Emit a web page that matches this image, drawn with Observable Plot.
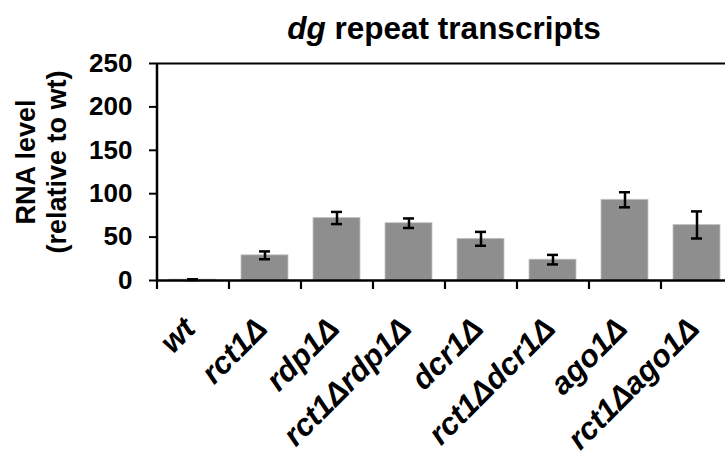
<!DOCTYPE html>
<html>
<head>
<meta charset="utf-8">
<script src="https://cdn.jsdelivr.net/npm/d3@7"></script>
<script src="https://cdn.jsdelivr.net/npm/@observablehq/plot@0.6"></script>
<style>
  html, body { margin: 0; padding: 0; background: #fff; overflow: hidden; width: 725px; height: 457px; position: relative; }
  #title { position: absolute; left: 156px; top: 10px; width: 576px; height: 36px; line-height: 36px; font-family: "Liberation Sans", Arial, sans-serif; font-weight: bold; font-size: 31.5px; color: #000; text-align: center; white-space: nowrap; }
  #chart svg { display: block; overflow: hidden; }
</style>
</head>
<body>
<div id="chart"></div>
<div id="title"><i>dg</i> repeat transcripts</div>
<script>
const strains = ["wt", "rct1Δ", "rdp1Δ", "rct1Δrdp1Δ", "dcr1Δ", "rct1Δdcr1Δ", "ago1Δ", "rct1Δago1Δ"];
const means = [1, 29, 72, 66, 48, 24, 93, 64];
const errors = [0.4, 4.5, 7, 5.5, 8, 5.5, 8.7, 15.6];
const yTicks = [0, 50, 100, 150, 200, 250];
const yLabelLines = ["RNA level", "(relative to wt)"];

const data = strains.map((s, i) => ({strain: s, mean: means[i], err: errors[i]}));

const width = 725, marginLeft = 156, marginRight = -7;
const step = (width - marginLeft - marginRight) / strains.length;
const font = "Liberation Sans, Arial, sans-serif";

const plot = Plot.plot({
  width,
  height: 457,
  marginLeft,
  marginRight,
  marginTop: 63,
  marginBottom: 177,
  style: {fontFamily: font, color: "#000", background: "#fff"},
  x: {domain: strains, paddingInner: 0.35, paddingOuter: 0.175, axis: null},
  y: {domain: [0, 250], ticks: yTicks, axis: null},
  marks: [
    Plot.barY(data, {x: "strain", y: "mean", fill: "#8e8e8e", stroke: "#c4c4c4", strokeWidth: 0.8}),
    Plot.ruleX(data, {x: "strain", y1: d => d.mean - d.err, y2: d => d.mean + d.err, stroke: "#000", strokeWidth: 2.5}),
    Plot.tickY(data, {x: "strain", y: d => d.mean - d.err, stroke: "#000", strokeWidth: 2.5, insetLeft: 18, insetRight: 18}),
    Plot.tickY(data, {x: "strain", y: d => d.mean + d.err, stroke: "#000", strokeWidth: 2.5, insetLeft: 18, insetRight: 18}),
    Plot.axisY({ticks: yTicks, tickSize: 7, tickPadding: 17, strokeWidth: 2, fontSize: 26, fontWeight: "bold", label: null}),
    Plot.ruleX([strains[0]], {x: d => d, dx: -step / 2, y1: 0, y2: 250, stroke: "#000", strokeWidth: 2.5}),
    Plot.ruleY([0], {stroke: "#000", strokeWidth: 2.5}),
    Plot.ruleY([250], {stroke: "#000", strokeWidth: 2.2}),
    Plot.axisX({tickSize: 9, tickFormat: () => "", dx: -step / 2, strokeWidth: 2.2, label: null}),
    Plot.text(strains, {x: d => d, y: 0, dy: 50, dx: 4, rotate: -45, textAnchor: "end", lineAnchor: "bottom",
      fontSize: 31, fontWeight: "bold", fontStyle: "italic", fill: "#000"}),
    Plot.text([yLabelLines.join("\n")], {frameAnchor: "left", text: d => d, dx: -90.5, dy: -10, rotate: -90,
      textAnchor: "middle", lineAnchor: "bottom", lineHeight: 1.167,
      fontSize: 27, fontWeight: "bold", fill: "#000"})
  ]
});
document.getElementById("chart").append(plot);
</script>
</body>
</html>
